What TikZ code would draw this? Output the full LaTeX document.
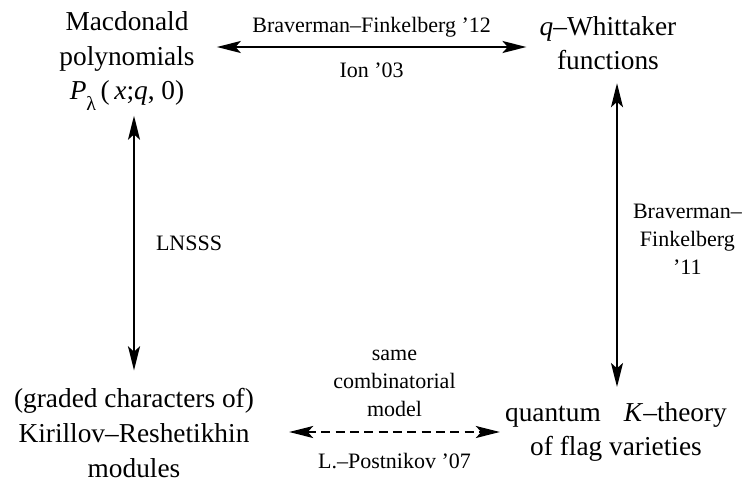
\documentclass[tikz,border=0pt]{standalone}
\usepackage{fontspec}
\setmainfont{Liberation Serif}
\usetikzlibrary{arrows.meta,calc}
\begin{document}
\begin{tikzpicture}[x=0.75pt,y=-0.75pt,
  concept/.style={align=center, inner sep=0pt, font=\fontsize{20.5}{26}\selectfont},
  lab/.style={align=center, inner sep=0pt, font=\fontsize{16.5}{21}\selectfont},
  link/.style={line width=1.5pt, {Stealth[length=18pt,width=9pt,inset=4pt]}-{Stealth[length=18pt,width=9pt,inset=4pt]}},
  sketchy/.style={link, dash pattern=on 6.75pt off 4pt},
]
\useasboundingbox (0,0) rectangle (743,483);

% the four corners of the square
\node[concept] (mac) at (127,61)
  {Macdonald\\polynomials\\\textit{P}\raisebox{-8pt}{\fontsize{15}{15}\selectfont λ}\,(\,\textit{x};\textit{q}, 0)};
\node[concept] (qw) at (608,43) {\textit{q}–Whittaker\\functions};
\node[concept] (kr) at (134,433) {(graded characters of)\\Kirillov–Reshetikhin\\modules};
\node[concept] (qk) at (616,432) {quantum\hspace{0.6em} \textit{K}–theory\\of flag varieties};

% top: Macdonald -- q-Whittaker
\draw[link] ($(mac.east |- 0,47)+(22,0)$) -- ($(qw.west |- 0,47)+(-13,0)$)
  node[lab, midway, above=6.75pt] {Braverman–Finkelberg '12}
  node[lab, midway, below=11.25pt] {Ion '03};

% left: Macdonald -- Kirillov-Reshetikhin
\draw[link] ($(mac.south -| 134,0)+(0,5)$) -- ($(kr.north -| 134,0)+(0,-18)$)
  node[lab, midway, right=15.75pt] {LNSSS};

% right: q-Whittaker -- quantum K-theory
\draw[link] ($(qw.south -| 617,0)+(0,13)$) -- ($(qk.north -| 617,0)+(0,-15)$)
  node[lab, midway, right=11.25pt, yshift=-3pt] {Braverman–\\Finkelberg\\'11};

% bottom: Kirillov-Reshetikhin -- quantum K-theory
\draw[sketchy] ($(kr.east |- 0,432)+(35,0)$) -- ($(qk.west |- 0,432)+(-5,0)$)
  node[lab, midway, above=10.5pt] {same\\combinatorial\\model}
  node[lab, midway, below=15pt] {L.–Postnikov '07};
\end{tikzpicture}
\end{document}
